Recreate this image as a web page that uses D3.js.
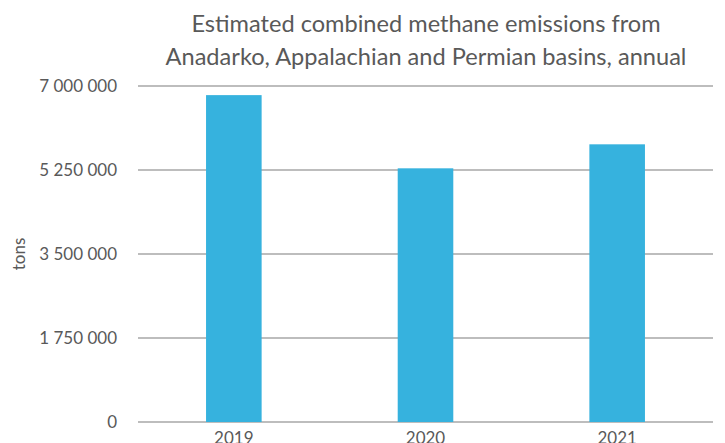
<!DOCTYPE html>
<html lang="en">
<head>
    <meta charset="UTF-8">
    <title>Methane emissions</title>
    <script src="https://d3js.org/d3.v7.min.js"></script>
    <style>
        body {
            margin: 0;
            font-family: Lato, "Open Sans", sans-serif;
            background: #fff;
        }
        .tick line {
            display: none;
        }
        .domain {
            display: none;
        }
        .tick text {
            fill: #595959;
            font-size: 17px;
            font-family: Lato, sans-serif;
        }
    </style>
</head>
<body>
    <svg id="chart" width="725" height="443"></svg>

    <script>
        const years = ["2019", "2020", "2021"];
        const emissions = [6810000, 5285000, 5785000];
        const yTicks = [0, 1750000, 3500000, 5250000, 7000000];
        const titleLines = ["Estimated combined methane emissions from",
                            "Anadarko, Appalachian and Permian basins, annual"];

        const margin = {top: 86, right: 12, bottom: 21, left: 138},
              width = 725 - margin.left - margin.right,
              height = 443 - margin.top - margin.bottom;

        const svg = d3.select("#chart");
        const g = svg.append("g")
            .attr("transform", `translate(${margin.left},${margin.top})`);

        const x = d3.scaleBand()
            .domain(years)
            .range([0, width])
            .paddingInner(0.71)
            .paddingOuter(0.355);

        const y = d3.scaleLinear()
            .domain([0, 7000000])
            .range([height, 0]);

        // thousands separated by a space
        const fmt = v => d3.format(",")(v).replace(/,/g, " ");

        // gridlines
        g.selectAll(".grid")
            .data(yTicks)
            .enter()
            .append("line")
            .attr("x1", 0)
            .attr("x2", width)
            .attr("y1", d => y(d))
            .attr("y2", d => y(d))
            .attr("stroke", "#bdbdbd")
            .attr("stroke-width", 2);

        g.append("g")
            .call(d3.axisLeft(y).tickValues(yTicks).tickFormat(fmt).tickSize(0).tickPadding(21));

        g.append("g")
            .attr("transform", `translate(0,${height})`)
            .call(d3.axisBottom(x).tickSize(0).tickPadding(10));

        g.selectAll(".bar")
            .data(emissions)
            .enter()
            .append("rect")
            .attr("class", "bar")
            .attr("x", (d, i) => x(years[i]))
            .attr("y", d => y(d))
            .attr("width", x.bandwidth())
            .attr("height", d => height - y(d))
            .attr("fill", "#36b2de");

        svg.append("text")
            .attr("transform", `translate(25,${margin.top + height / 2}) rotate(-90)`)
            .attr("text-anchor", "middle")
            .attr("fill", "#595959")
            .style("font-size", "17px")
            .text("tons");

        svg.selectAll(".title")
            .data(titleLines)
            .enter()
            .append("text")
            .attr("x", 426)
            .attr("y", (d, i) => 32 + i * 33)
            .attr("text-anchor", "middle")
            .attr("fill", "#595959")
            .style("font-size", "23.6px")
            .text(d => d);
    </script>
</body>
</html>
